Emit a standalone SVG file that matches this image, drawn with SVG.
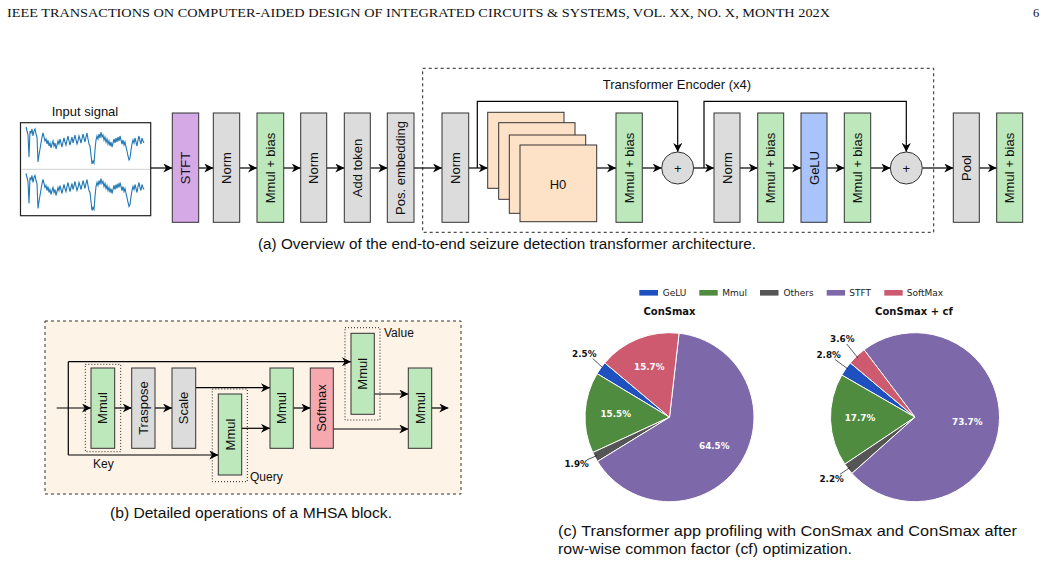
<svg xmlns="http://www.w3.org/2000/svg" width="1041" height="563" viewBox="0 0 1041 563">
<defs>
<style>
.hdr{font-family:"Liberation Serif","Times New Roman",serif;font-size:12.5px;fill:#111}
.t{font-family:"Liberation Sans",Arial,sans-serif;font-size:13px;fill:#111}
.cap{font-family:"Liberation Sans",Arial,sans-serif;font-size:14px;fill:#111}
.lab{font-family:"Liberation Sans",Arial,sans-serif;font-size:12px;fill:#111}
.bx{stroke:#333;stroke-width:1}
.gray{fill:#dcdcdc}
.green{fill:#bde8bc}
.purple{fill:#d5a8e6}
.blue{fill:#a8c4fa}
.peach{fill:#fee2c8}
.pink{fill:#f7a8ae}
.ln{fill:none;stroke:#000;stroke-width:1.2}
.arr{fill:none;stroke:#000;stroke-width:1.2;marker-end:url(#ah)}
.dot{fill:none;stroke:#222;stroke-width:1;stroke-dasharray:1 2}
.pl{font-family:"DejaVu Sans",sans-serif;font-size:8.8px;font-weight:bold}
.lg{font-family:"DejaVu Sans",sans-serif;font-size:9px;fill:#222}
.ttl{font-family:"DejaVu Sans",sans-serif;font-size:10px;font-weight:bold;fill:#111}
.sl{stroke:#fff;stroke-width:1}
</style>
<marker id="ah" viewBox="0 0 10 10" refX="10" refY="5" markerWidth="9" markerHeight="9" markerUnits="userSpaceOnUse" orient="auto">
<path d="M0,0 L10,5 L0,10 L3,5 z" fill="#000"/>
</marker>
<polyline id="wave" fill="none" stroke="#1f77b4" stroke-width="1.1" points="26,127 27,131 28,135 29,157 30,131 31,133 32,129 33,136 34,131 35,129 36,134 37,137 38,162 39,155 40,149 41,143 42,137 43,133 44,137 45,141 46,139 47,144 48,140 49,146 50,143 51,148 52,144 53,141 54,146 55,143 56,149 57,145 58,141 59,144 60,139 61,143 62,147 63,142 64,138 65,142 66,145 67,140 68,136 69,141 70,145 71,141 72,137 73,143 74,139 75,135 76,140 77,144 78,141 79,136 80,139 81,143 82,139 83,134 84,138 85,142 86,137 87,133 88,139 89,144 90,146 91,155 92,164 93,161 94,163 95,150 96,140 97,136 98,139 99,134 100,138 101,132 102,137 103,135 104,140 105,137 106,142 107,139 108,144 109,141 110,146 111,142 112,147 113,143 114,139 115,143 116,138 117,142 118,137 119,141 120,136 121,140 122,144 123,140 124,145 125,142 126,147 127,151 128,156 129,160 130,158 131,150 132,144 133,140 134,143 135,138 136,142 137,146 138,140 139,136 140,141 141,144 142,138 143,141 144,143"/>
</defs>
<rect width="1041" height="563" fill="#fff"/>

<text class="hdr" x="7" y="16.5" textLength="823" lengthAdjust="spacingAndGlyphs">IEEE TRANSACTIONS ON COMPUTER-AIDED DESIGN OF INTEGRATED CIRCUITS &amp; SYSTEMS, VOL. XX, NO. X, MONTH 202X</text>
<text class="hdr" x="1033" y="16.5">6</text>

<!-- (a) overview -->
<rect x="422.7" y="68.3" width="511" height="164" fill="none" stroke="#222" stroke-width="1" stroke-dasharray="3 3"/>
<text class="t" x="677" y="88.5" text-anchor="middle">Transformer Encoder (x4)</text>

<g id="connectors-a">
<path class="arr" d="M150.7,168 H172.3"/>
<path class="arr" d="M198.7,168 H213.3"/>
<path class="arr" d="M239.7,168 H257"/>
<path class="arr" d="M283.7,168 H300.7"/>
<path class="arr" d="M326.7,168 H344.3"/>
<path class="arr" d="M370.3,168 H387.3"/>
<path class="arr" d="M414,168 H442"/>
<path class="arr" d="M468.7,168 H487.7"/>
<path class="arr" d="M477.3,168 V101.3 H677.7 V152"/>
<path class="arr" d="M596.7,168 H616"/>
<path class="arr" d="M642.3,168 H661.7"/>
<path class="arr" d="M693.7,168 H714"/>
<path class="arr" d="M704,168 V101.3 H906.3 V152"/>
<path class="arr" d="M740,168 H757.7"/>
<path class="arr" d="M783.7,168 H801"/>
<path class="arr" d="M827,168 H844.3"/>
<path class="arr" d="M870.7,168 H890.3"/>
<path class="arr" d="M922.3,168 H953.3"/>
<path class="arr" d="M979.3,168 H996.7"/>
</g>

<g id="input-signal">
<text class="t" x="85" y="116" text-anchor="middle">Input signal</text>
<rect x="20.5" y="122.7" width="130.2" height="93" fill="#fff" stroke="#222" stroke-width="1.2"/>
<line x1="21.5" y1="169.3" x2="150" y2="169.3" stroke="#d0d0d0" stroke-width="1"/>
<use href="#wave"/>
<use href="#wave" transform="translate(0,46.5)"/>
</g>
<g id="stft"><rect class="bx purple" x="172.3" y="113" width="26.4" height="109.3"/><text class="t" transform="translate(185.5,168) rotate(-90)" text-anchor="middle" dominant-baseline="central">STFT</text></g>
<g id="norm1"><rect class="bx gray" x="213.3" y="113" width="26.4" height="109.3"/><text class="t" transform="translate(226.5,168) rotate(-90)" text-anchor="middle" dominant-baseline="central">Norm</text></g>
<g id="mmul1"><rect class="bx green" x="257" y="113" width="26.7" height="109.3"/><text class="t" transform="translate(270.3,168) rotate(-90)" text-anchor="middle" dominant-baseline="central">Mmul + bias</text></g>
<g id="norm2"><rect class="bx gray" x="300.7" y="113" width="26" height="109.3"/><text class="t" transform="translate(313.7,168) rotate(-90)" text-anchor="middle" dominant-baseline="central">Norm</text></g>
<g id="addtoken"><rect class="bx gray" x="344.3" y="113" width="26" height="109.3"/><text class="t" transform="translate(357.3,168) rotate(-90)" text-anchor="middle" dominant-baseline="central">Add token</text></g>
<g id="posemb"><rect class="bx gray" x="387.3" y="113" width="26.7" height="109.3"/><text class="t" transform="translate(400.7,168) rotate(-90)" text-anchor="middle" dominant-baseline="central">Pos. embedding</text></g>
<g id="norm3"><rect class="bx gray" x="442" y="113" width="26.7" height="109.3"/><text class="t" transform="translate(455.3,168) rotate(-90)" text-anchor="middle" dominant-baseline="central">Norm</text></g>
<g id="h0">
<rect class="bx peach" x="487.7" y="112.3" width="76.3" height="76"/>
<rect class="bx peach" x="498.7" y="122.7" width="76.3" height="76.6"/>
<rect class="bx peach" x="509.3" y="135" width="76.4" height="78.3"/>
<rect class="bx peach" x="520" y="145" width="76.7" height="76.7"/>
<text class="t" x="558" y="184" text-anchor="middle" dominant-baseline="central">H0</text>
</g>
<g id="mmul2"><rect class="bx green" x="616" y="113" width="26.3" height="109.3"/><text class="t" transform="translate(629.2,168) rotate(-90)" text-anchor="middle" dominant-baseline="central">Mmul + bias</text></g>
<g id="add1"><circle class="bx gray" cx="677.7" cy="168" r="16"/><text class="t" x="677.7" y="168" font-size="9" text-anchor="middle" dominant-baseline="central">+</text></g>
<g id="norm4"><rect class="bx gray" x="714" y="113" width="26" height="109.3"/><text class="t" transform="translate(727,168) rotate(-90)" text-anchor="middle" dominant-baseline="central">Norm</text></g>
<g id="mmul3"><rect class="bx green" x="757.7" y="113" width="26" height="109.3"/><text class="t" transform="translate(770.7,168) rotate(-90)" text-anchor="middle" dominant-baseline="central">Mmul + bias</text></g>
<g id="gelu"><rect class="bx blue" x="801" y="113" width="26" height="109.3"/><text class="t" transform="translate(814,168) rotate(-90)" text-anchor="middle" dominant-baseline="central">GeLU</text></g>
<g id="mmul4"><rect class="bx green" x="844.3" y="113" width="26.4" height="109.3"/><text class="t" transform="translate(857.5,168) rotate(-90)" text-anchor="middle" dominant-baseline="central">Mmul + bias</text></g>
<g id="add2"><circle class="bx gray" cx="906.3" cy="168" r="16"/><text class="t" x="906.3" y="168" font-size="9" text-anchor="middle" dominant-baseline="central">+</text></g>
<g id="pool"><rect class="bx gray" x="953.3" y="113" width="26" height="109.3"/><text class="t" transform="translate(966.3,168) rotate(-90)" text-anchor="middle" dominant-baseline="central">Pool</text></g>
<g id="mmul5"><rect class="bx green" x="996.7" y="113" width="26" height="109.3"/><text class="t" transform="translate(1009.7,168) rotate(-90)" text-anchor="middle" dominant-baseline="central">Mmul + bias</text></g>

<text class="cap" x="258" y="249" textLength="498" lengthAdjust="spacingAndGlyphs">(a) Overview of the end-to-end seizure detection transformer architecture.</text>

<!-- (b) MHSA -->
<rect x="45" y="321" width="416" height="173" fill="#fdf3e6" stroke="#333" stroke-width="1" stroke-dasharray="3 3"/>
<g id="connectors-b">
<path class="ln" d="M68.3,361.7 V455"/>
<path class="arr" d="M56.7,408 H91"/>
<path class="arr" d="M68.3,361.7 H351"/>
<path class="arr" d="M68.3,455 H218.3"/>
<path class="arr" d="M114.7,408 H131.7"/>
<path class="arr" d="M155,408 H172"/>
<path class="arr" d="M195.7,387.7 H270"/>
<path class="arr" d="M241.7,428.3 H270"/>
<path class="arr" d="M293.3,408 H310.3"/>
<path class="arr" d="M374.3,394 H408.3"/>
<path class="arr" d="M333.3,429 H408.3"/>
<path class="arr" d="M431.7,408 H448.3"/>
</g>
<g id="key-mmul"><rect class="dot" x="85.3" y="364.3" width="35.4" height="87.4"/><rect class="bx green" x="91" y="368" width="23.7" height="80.3"/><text class="t" transform="translate(102.8,408) rotate(-90)" text-anchor="middle" dominant-baseline="central">Mmul</text><text class="lab" x="103.3" y="468" text-anchor="middle">Key</text></g>
<g id="traspose"><rect class="bx gray" x="131.7" y="368" width="23.3" height="80.3"/><text class="t" transform="translate(143.3,408) rotate(-90)" text-anchor="middle" dominant-baseline="central">Traspose</text></g>
<g id="scale"><rect class="bx gray" x="172" y="368" width="23.7" height="80.3"/><text class="t" transform="translate(183.8,408) rotate(-90)" text-anchor="middle" dominant-baseline="central">Scale</text></g>
<g id="query-mmul"><rect class="dot" x="212.3" y="389" width="35" height="92.7"/><rect class="bx green" x="218.3" y="394" width="23.4" height="81"/><text class="t" transform="translate(230,434.5) rotate(-90)" text-anchor="middle" dominant-baseline="central">Mmul</text><text class="lab" x="250" y="480.5">Query</text></g>
<g id="qk-mmul"><rect class="bx green" x="270" y="368" width="23.3" height="80.3"/><text class="t" transform="translate(281.7,408) rotate(-90)" text-anchor="middle" dominant-baseline="central">Mmul</text></g>
<g id="softmax"><rect class="bx pink" x="310.3" y="368" width="23" height="80.3"/><text class="t" transform="translate(321.8,408) rotate(-90)" text-anchor="middle" dominant-baseline="central">Softmax</text></g>
<g id="value-mmul"><rect class="dot" x="345" y="327.7" width="35" height="92.3"/><rect class="bx green" x="351" y="333.3" width="23.3" height="81"/><text class="t" transform="translate(362.7,373.8) rotate(-90)" text-anchor="middle" dominant-baseline="central">Mmul</text><text class="lab" x="384" y="336.5">Value</text></g>
<g id="out-mmul"><rect class="bx green" x="408.3" y="368" width="23.4" height="80.3"/><text class="t" transform="translate(420,408) rotate(-90)" text-anchor="middle" dominant-baseline="central">Mmul</text></g>

<text class="cap" x="110" y="518" textLength="282" lengthAdjust="spacingAndGlyphs">(b) Detailed operations of a MHSA block.</text>

<!-- (c) pies -->
<g id="legend">
<rect x="639.3" y="290" width="18.7" height="5.6" fill="#1f50bf"/><text class="lg" x="662.7" y="296">GeLU</text>
<rect x="699.3" y="290" width="18.4" height="5.6" fill="#4f8c3f"/><text class="lg" x="722.3" y="296">Mmul</text>
<rect x="760" y="290" width="18.5" height="5.6" fill="#555555"/><text class="lg" x="783.5" y="296">Others</text>
<rect x="826.7" y="290" width="18.4" height="5.6" fill="#7d68aa"/><text class="lg" x="849.3" y="296">STFT</text>
<rect x="884.3" y="290" width="18.4" height="5.6" fill="#cd5a6e"/><text class="lg" x="906.7" y="296">SoftMax</text>
</g>
<g id="pie1">
<text class="ttl" x="669.5" y="314.5" text-anchor="middle">ConSmax</text>
<path class="sl" fill="#1f50bf" d="M669.5,417.2 L604.77,362.88 A84.5,84.5 0 0 0 597.08,373.67 Z"/>
<path class="sl" fill="#4f8c3f" d="M669.5,417.2 L597.08,373.67 A84.5,84.5 0 0 0 592.76,452.55 Z"/>
<path class="sl" fill="#555555" d="M669.5,417.2 L592.76,452.55 A84.5,84.5 0 0 0 597.5,461.44 Z"/>
<path class="sl" fill="#7d68aa" d="M669.5,417.2 L597.5,461.44 A84.5,84.5 0 1 0 679.04,333.24 Z"/>
<path class="sl" fill="#cd5a6e" d="M669.5,417.2 L679.04,333.24 A84.5,84.5 0 0 0 604.77,362.88 Z"/>
<text class="pl" fill="#fff" x="649.3" y="370.3" text-anchor="middle">15.7%</text>
<text class="pl" fill="#fff" x="615.7" y="417" text-anchor="middle">15.5%</text>
<text class="pl" fill="#fff" x="714.3" y="448.7" text-anchor="middle">64.5%</text>
<text class="pl" fill="#111" x="584.3" y="357" text-anchor="middle">2.5%</text>
<text class="pl" fill="#111" x="576.7" y="466.7" text-anchor="middle">1.9%</text>
<line x1="592.7" y1="358.5" x2="602.5" y2="367.5" stroke="#111" stroke-width="0.7"/>
<line x1="586.7" y1="460" x2="597" y2="455.5" stroke="#111" stroke-width="0.7"/>
</g>
<g id="pie2">
<text class="ttl" x="914" y="314.5" text-anchor="middle">ConSmax + cf</text>
<path class="sl" fill="#1f50bf" d="M915,417.2 L850.27,362.88 A84.5,84.5 0 0 0 841.76,375.05 Z"/>
<path class="sl" fill="#4f8c3f" d="M915,417.2 L841.76,375.05 A84.5,84.5 0 0 0 844.78,464.21 Z"/>
<path class="sl" fill="#555555" d="M915,417.2 L844.78,464.21 A84.5,84.5 0 0 0 851.93,473.43 Z"/>
<path class="sl" fill="#7d68aa" d="M915,417.2 L851.93,473.43 A84.5,84.5 0 1 0 864.09,349.76 Z"/>
<path class="sl" fill="#cd5a6e" d="M915,417.2 L864.09,349.76 A84.5,84.5 0 0 0 850.27,362.88 Z"/>
<text class="pl" fill="#fff" x="860" y="421.3" text-anchor="middle">17.7%</text>
<text class="pl" fill="#fff" x="967.3" y="424.7" text-anchor="middle">73.7%</text>
<text class="pl" fill="#111" x="842.3" y="342.3" text-anchor="middle">3.6%</text>
<text class="pl" fill="#111" x="828.7" y="358" text-anchor="middle">2.8%</text>
<text class="pl" fill="#111" x="831.7" y="481.7" text-anchor="middle">2.2%</text>
<line x1="846.7" y1="344" x2="858" y2="358" stroke="#111" stroke-width="0.7"/>
<line x1="835" y1="359.5" x2="848" y2="369" stroke="#111" stroke-width="0.7"/>
<line x1="840" y1="474.3" x2="850" y2="467.5" stroke="#111" stroke-width="0.7"/>
</g>

<text class="cap" x="558" y="536" textLength="459" lengthAdjust="spacingAndGlyphs">(c) Transformer app profiling with ConSmax and ConSmax after</text>
<text class="cap" x="558" y="554" textLength="294" lengthAdjust="spacingAndGlyphs">row-wise common factor (cf) optimization.</text>
</svg>
